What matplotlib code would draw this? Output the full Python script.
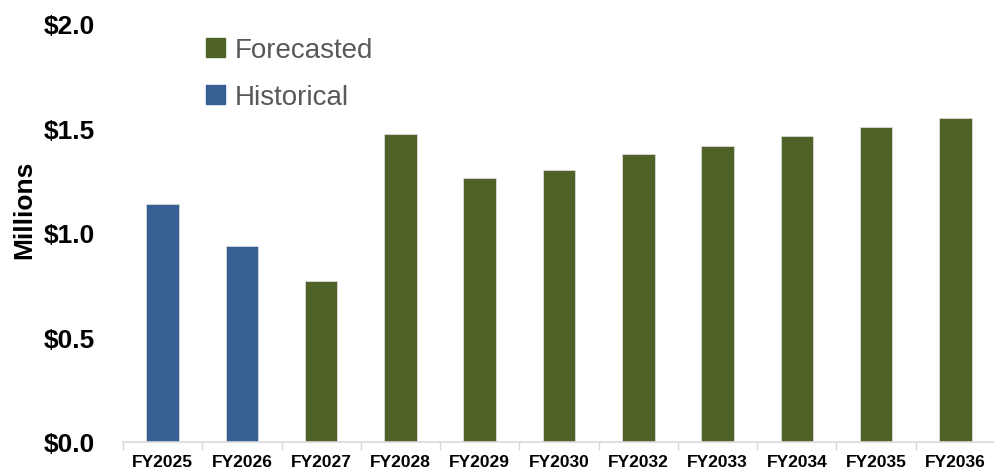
import matplotlib.pyplot as plt
from matplotlib.patches import Patch

years = ['FY2025', 'FY2026', 'FY2027', 'FY2028', 'FY2029', 'FY2030',
         'FY2032', 'FY2033', 'FY2034', 'FY2035', 'FY2036']
values = [1.14, 0.94, 0.77, 1.475, 1.263, 1.30, 1.378, 1.416, 1.464, 1.507, 1.55]
kind = ['Historical', 'Historical'] + ['Forecasted'] * 9

colors = {'Historical': '#366092', 'Forecasted': '#4F6228'}

plt.rcParams['font.family'] = ['Liberation Sans', 'DejaVu Sans']

fig = plt.figure(figsize=(9.95, 4.77), dpi=100)
ax = fig.add_axes([123 / 995, 1 - 443 / 477, 1 - 123 / 995, (443 - 25) / 477])

x = range(len(years))
ax.bar(x, values, width=0.41, color=[colors[k] for k in kind],
       edgecolor='#d9d9d9', linewidth=0.6, zorder=2)

ax.set_ylim(0, 2.0)
ax.set_xlim(-0.5, 10.4)
ax.set_yticks([0, 0.5, 1.0, 1.5, 2.0])
ax.set_yticklabels(['$%.1f' % v for v in [0, 0.5, 1.0, 1.5, 2.0]],
                   fontsize=19, fontweight='bold')
ax.set_xticks(list(x))
ax.set_xticklabels(years, fontsize=12.5, fontweight='bold')
ax.set_xticks([i - 0.5 for i in range(len(years) + 1)], minor=True)
ax.tick_params(axis='x', which='major', length=0, pad=9)
ax.tick_params(axis='x', which='minor', length=6, color='#d9d9d9', width=1)
ax.tick_params(axis='y', length=0, pad=20)

for s in ['top', 'right', 'left']:
    ax.spines[s].set_visible(False)
ax.spines['bottom'].set_color('#d9d9d9')
ax.spines['bottom'].set_linewidth(1.2)

ax.set_ylabel('Millions', fontsize=19, fontweight='bold')
ax.yaxis.set_label_coords(-0.1, 0.557)

handles = [Patch(color=colors['Forecasted'], label='Forecasted'),
           Patch(color=colors['Historical'], label='Historical')]
leg = fig.legend(handles=handles, loc='upper left', bbox_to_anchor=(181 / 995, 1 - 13 / 477),
                 frameon=False, fontsize=20, handlelength=0.7, handleheight=0.7,
                 handletextpad=0.35, labelspacing=0.77)
for t in leg.get_texts():
    t.set_color('#595959')

fig.savefig('out.png', dpi=100)
